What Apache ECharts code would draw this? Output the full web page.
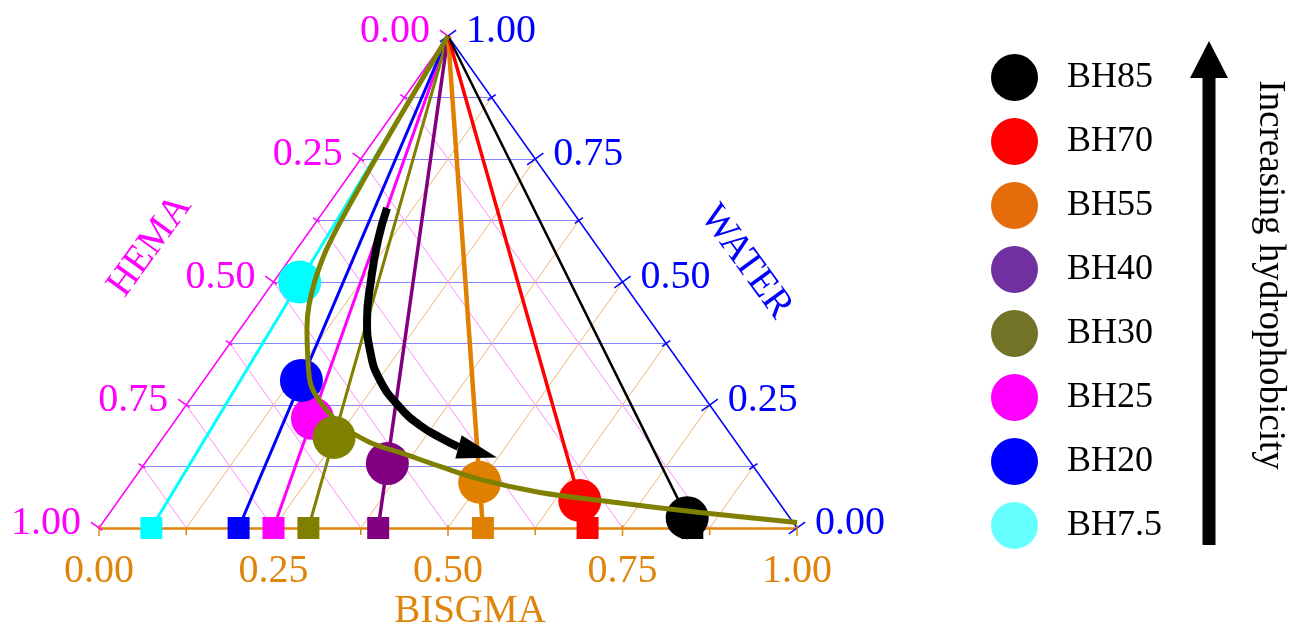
<!DOCTYPE html>
<html><head><meta charset="utf-8">
<script src="https://cdn.jsdelivr.net/npm/echarts@6/dist/echarts.min.js"></script>
<style>html,body{margin:0;padding:0;background:#fff}#chart{width:1295px;height:630px}</style>
</head><body><div id="chart"></div>
<script>
// ---------- data ----------
const names = ['BH85', 'BH70', 'BH55', 'BH40', 'BH30', 'BH25', 'BH20', 'BH7.5'];
// BISGMA fraction of the resin (square on the BISGMA axis, water = 0)
const bisgmaRatio = [0.85, 0.70, 0.55, 0.40, 0.30, 0.25, 0.20, 0.075];
// water fraction at the cloud point (circle)
const cloudWater = [0.021, 0.056, 0.093, 0.131, 0.184, 0.223, 0.300, 0.500];
// fitted binodal curve (BISGMA, WATER fractions)
const binodalBisgma = [0, 0.0138, 0.0285, 0.0363, 0.0451, 0.0577, 0.0745, 0.094, 0.129, 0.1587, 0.1938, 0.24, 0.3013, 0.3544, 0.426, 0.4965, 0.5957, 0.6898, 0.8453, 0.9944];
const binodalWater  = [1, 0.8291, 0.6765, 0.6094, 0.5544, 0.5036, 0.4527, 0.4079, 0.3408, 0.290, 0.2513, 0.2106, 0.174, 0.1536, 0.1251, 0.0987, 0.0722, 0.056, 0.0315, 0.0112];
// curved annotation arrow (BISGMA, WATER fractions)
const arrowBisgma = [0.0876, 0.1072, 0.1379, 0.1729, 0.2077, 0.2526, 0.3086, 0.3557, 0.3965, 0.4326];
const arrowWater  = [0.6501, 0.585, 0.5036, 0.4222, 0.3611, 0.3001, 0.2452, 0.2085, 0.1841, 0.1648];
const arrowTip = [0.4985, 0.1434];
const tickValues = [0, 0.25, 0.5, 0.75, 1];
const tickLabels = ['0.00', '0.25', '0.50', '0.75', '1.00'];
const gridStep = 0.125;

// ---------- styles ----------
const lineColors = ['#000000', '#ff0000', '#e08000', '#800080', '#808000', '#ff00ff', '#0000ff', '#00ffff'];
const legendColors = ['#000000', '#ff0000', '#e46c0a', '#7030a0', '#737328', '#ff00ff', '#0000ff', '#66ffff'];
const lineWidths = [2.5, 3.5, 4.5, 3.5, 3, 3, 3, 3];
const drawOrder = [7, 5, 6, 4, 3, 2, 1, 0];
const FONT = '"Liberation Serif", "Times New Roman", serif';
const MAGENTA = '#ff00ff', BLUE = '#0000ff', ORANGE = '#e0850c';

// ternary (BISGMA b, WATER w) -> cartesian data space
function tern(b, w) { return [b + w / 2, w]; }

// grid lines
const gridWater = [], gridHema = [], gridBis = [];
for (let k = 1; k < Math.round(1 / gridStep); k++) {
  const v = k * gridStep;
  gridWater.push({ coords: [tern(0, v), tern(1 - v, v)] });
  gridHema.push({ coords: [tern(0, 1 - v), tern(1 - v, 0)] });
  gridBis.push({ coords: [tern(v, 0), tern(v, 1 - v)] });
}

// ticks: [b, w, axis(0 bottom,1 left,2 right), major]
const tickData = [];
for (let k = 0; k <= Math.round(1 / gridStep); k++) {
  const v = k * gridStep, major = k % 2 === 0 ? 1 : 0;
  tickData.push([v, 0, 0, major]);
  tickData.push([0, 1 - v, 1, major]);
  tickData.push([1 - v, v, 2, major]);
}
// labels: [b, w, axis, labelIndex]
const labelData = [];
tickValues.forEach((v, i) => {
  labelData.push([v, 0, 0, i]);          // BISGMA
  labelData.push([0, 1 - v, 1, i]);      // HEMA
  labelData.push([1 - v, v, 2, i]);      // WATER
});

function normals(api) {
  const BL = api.coord([0, 0]), BR = api.coord([1, 0]), T = api.coord([0.5, 1]);
  let dx = T[0] - BL[0], dy = T[1] - BL[1], l = Math.hypot(dx, dy);
  const nL = [dy / l, -dx / l];
  dx = BR[0] - T[0]; dy = BR[1] - T[1]; l = Math.hypot(dx, dy);
  const nR = [dy / l, -dx / l];
  return [[0, 1], nL, nR];
}

const series = [];
series.push({ type: 'lines', coordinateSystem: 'cartesian2d', z: 1, silent: true, clip: false,
  lineStyle: { color: '#8484ff', width: 1, opacity: 1 }, data: gridWater });
series.push({ type: 'lines', coordinateSystem: 'cartesian2d', z: 1, silent: true, clip: false,
  lineStyle: { color: '#ff8cff', width: 1, opacity: 1 }, data: gridHema });
series.push({ type: 'lines', coordinateSystem: 'cartesian2d', z: 1, silent: true, clip: false,
  lineStyle: { color: '#f3b672', width: 1, opacity: 1 }, data: gridBis });
// triangle edges
series.push({ type: 'lines', coordinateSystem: 'cartesian2d', z: 2, silent: true, clip: false,
  lineStyle: { color: MAGENTA, width: 1.5, opacity: 1 }, data: [{ coords: [tern(0, 0), tern(0, 1)] }] });
series.push({ type: 'lines', coordinateSystem: 'cartesian2d', z: 2, silent: true, clip: false,
  lineStyle: { color: BLUE, width: 1.5, opacity: 1 }, data: [{ coords: [tern(0, 1), tern(1, 0)] }] });
series.push({ type: 'lines', coordinateSystem: 'cartesian2d', z: 2, silent: true, clip: false,
  lineStyle: { color: ORANGE, width: 2.5, opacity: 1 }, data: [{ coords: [tern(0, 0), tern(1, 0)] }] });
// ticks
series.push({ type: 'custom', coordinateSystem: 'cartesian2d', z: 3, silent: true, clip: false,
  data: tickData,
  renderItem: function (params, api) {
    const b = api.value(0), w = api.value(1), ax = api.value(2), major = api.value(3);
    const p = api.coord(tern(b, w));
    const n = normals(api)[ax];
    let inL, outL, color;
    if (ax === 0) { color = ORANGE; inL = major ? 3 : 0; outL = major ? 8 : 7; }
    else if (ax === 1) { color = MAGENTA; inL = major ? 4 : 3; outL = major ? 10 : 5; }
    else { color = BLUE; inL = major ? 10 : 5; outL = major ? 10 : 5; }
    return { type: 'line', shape: { x1: p[0] - n[0] * inL, y1: p[1] - n[1] * inL, x2: p[0] + n[0] * outL, y2: p[1] + n[1] * outL },
      style: { stroke: color, lineWidth: 1.5 } };
  } });
// tick labels
series.push({ type: 'custom', coordinateSystem: 'cartesian2d', z: 6, silent: true, clip: false,
  data: labelData,
  renderItem: function (params, api) {
    const b = api.value(0), w = api.value(1), ax = api.value(2), idx = api.value(3);
    const p = api.coord(tern(b, w));
    let x, y, align, color;
    if (ax === 0) { x = p[0]; y = p[1] + 43; align = 'center'; color = ORANGE; }
    else if (ax === 1) { x = p[0] - 18; y = p[1] - 5; align = 'right'; color = MAGENTA; }
    else { x = p[0] + 18; y = p[1] - 5; align = 'left'; color = BLUE; }
    return { type: 'text', x: x, y: y,
      style: { text: tickLabels[idx], fill: color, fontSize: 40, fontFamily: FONT, align: align, verticalAlign: 'middle' } };
  } });
// compositions
drawOrder.forEach(i => {
  const r = bisgmaRatio[i], w = cloudWater[i];
  series.push({ type: 'line', name: names[i], z: 4, clip: false, silent: true, animation: false,
    showAllSymbol: true,
    lineStyle: { color: lineColors[i], width: lineWidths[i] },
    itemStyle: { color: lineColors[i], opacity: 1 },
    data: [
      { value: tern(0, 1), symbol: 'none' },
      { value: tern(r * (1 - w), w), symbol: 'circle', symbolSize: 43 },
      { value: tern(r, 0), symbol: 'rect', symbolSize: 22 }
    ] });
});
// binodal curve
series.push({ type: 'line', z: 5, clip: false, silent: true, smooth: 0.35, symbol: 'none',
  lineStyle: { color: '#808000', width: 5 },
  data: binodalBisgma.map((b, i) => tern(b, binodalWater[i])) });
// curved arrow shaft
series.push({ type: 'line', z: 6, clip: false, silent: true, smooth: 0.5, symbol: 'none',
  lineStyle: { color: '#000000', width: 8, cap: 'butt' },
  data: arrowBisgma.map((b, i) => tern(b, arrowWater[i])) });
// arrow head
series.push({ type: 'custom', coordinateSystem: 'cartesian2d', z: 6, silent: true, clip: false,
  data: [[arrowBisgma[arrowBisgma.length - 1], arrowWater[arrowWater.length - 1], arrowTip[0], arrowTip[1]]],
  renderItem: function (params, api) {
    const base = api.coord(tern(api.value(0), api.value(1)));
    const tip = api.coord(tern(api.value(2), api.value(3)));
    const dx = tip[0] - base[0], dy = tip[1] - base[1], l = Math.hypot(dx, dy);
    const n = [-dy / l * 12, dx / l * 12];
    return { type: 'polygon', shape: { points: [tip, [base[0] + n[0], base[1] + n[1]], [base[0] - n[0], base[1] - n[1]]] },
      style: { fill: '#000000' } };
  } });

const chart = echarts.init(document.getElementById('chart'), null, { renderer: 'canvas' });
chart.setOption({
  animation: false,
  backgroundColor: '#ffffff',
  grid: { left: 99, right: 498, top: 36, bottom: 102 },
  xAxis: { type: 'value', min: 0, max: 1, show: false },
  yAxis: { type: 'value', min: 0, max: 1, show: false },
  legend: {
    data: names.map((n, i) => ({ name: n, icon: 'circle', itemStyle: { color: legendColors[i] } })),
    orient: 'vertical', left: 986, top: 49, itemWidth: 47, itemHeight: 47, itemGap: 17,
    selectedMode: false,
    textStyle: { fontSize: 36, fontFamily: FONT, color: '#000000', padding: [0, 0, 0, 24] }
  },
  graphic: [
    { type: 'text', x: 150, y: 246, rotation: 54 * Math.PI / 180,
      style: { text: 'HEMA', fill: MAGENTA, fontSize: 39, fontFamily: FONT, align: 'center', verticalAlign: 'middle' } },
    { type: 'text', x: 746, y: 262, rotation: -54 * Math.PI / 180,
      style: { text: 'WATER', fill: BLUE, fontSize: 39, fontFamily: FONT, align: 'center', verticalAlign: 'middle' } },
    { type: 'text', x: 470, y: 612,
      style: { text: 'BISGMA', fill: ORANGE, fontSize: 39, fontFamily: FONT, align: 'center', verticalAlign: 'middle' } },
    { type: 'polygon', shape: { points: [[1209, 41], [1228, 78], [1190, 78]] }, style: { fill: '#000' } },
    { type: 'rect', shape: { x: 1202.5, y: 76, width: 13, height: 469 }, style: { fill: '#000' } },
    { type: 'text', x: 1270, y: 275, rotation: -Math.PI / 2,
      style: { text: 'Increasing hydrophobicity', fill: '#000', fontSize: 37, fontFamily: FONT, align: 'center', verticalAlign: 'middle' } }
  ],
  series: series
});
</script></body></html>
